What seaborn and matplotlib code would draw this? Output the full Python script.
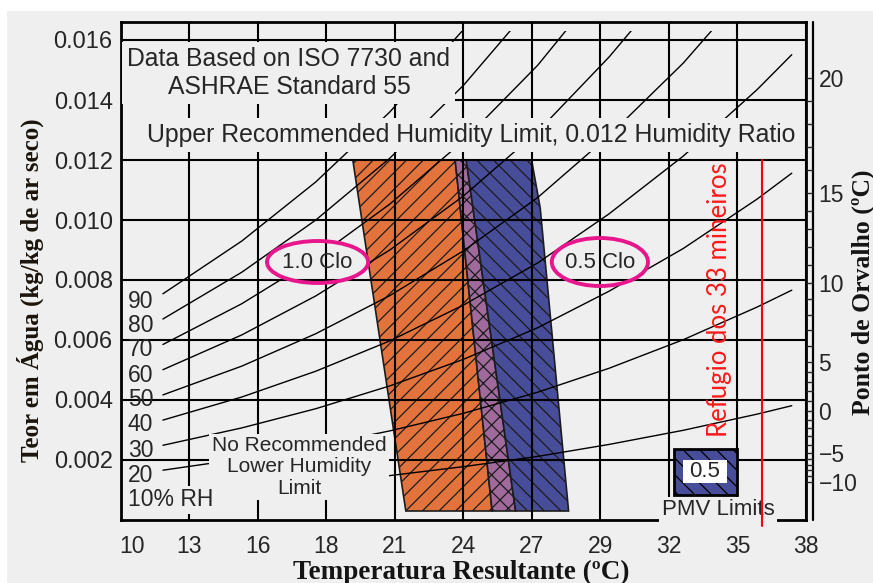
import numpy as np
import pandas as pd
import matplotlib
matplotlib.use("Agg")
import matplotlib.pyplot as plt
import matplotlib.transforms as mtransforms
import seaborn as sns
from matplotlib.patches import Ellipse, Rectangle, Polygon
from matplotlib.lines import Line2D

# ---------------- data ----------------
# relative-humidity curves: humidity ratio (kg/kg) along the operative temperature (°C)
curve_temps = [11.7, 14.9, 17.9, 20.9, 23.9, 26.9, 29.8, 32.8, 35.8, 37.2]
rh_10 = [0.00083, 0.00102, 0.00123, 0.00148, 0.00178, 0.00212, 0.00252, 0.00299, 0.00353, 0.00381]
rh_20 = [0.00166, 0.00204, 0.00247, 0.00297, 0.00356, 0.00426, 0.00506, 0.00601, 0.00710, 0.00766]
rh_30 = [0.00249, 0.00307, 0.00371, 0.00447, 0.00536, 0.00641, 0.00763, 0.00905, 0.01070, 0.01156]
rh_40 = [0.00333, 0.00410, 0.00496, 0.00597, 0.00717, 0.00857, 0.01021, 0.01213, 0.01435, 0.01551]
rh_50 = [0.00417, 0.00513, 0.00621, 0.00748, 0.00898, 0.01075, 0.01282, 0.01523, 0.01805]
rh_60 = [0.00501, 0.00617, 0.00747, 0.00900, 0.01081, 0.01295, 0.01544, 0.01837]
rh_70 = [0.00585, 0.00721, 0.00873, 0.01053, 0.01265, 0.01516, 0.01809]
rh_80 = [0.00670, 0.00826, 0.01000, 0.01206, 0.01450, 0.01738]
rh_90 = [0.00754, 0.00930, 0.01127, 0.01360, 0.01636, 0.01962]
rh_levels = [10, 20, 30, 40, 50, 60, 70, 80, 90]
rh_curves = [rh_10, rh_20, rh_30, rh_40, rh_50, rh_60, rh_70, rh_80, rh_90]
rh_labels = ["90", "80", "70", "60", "50", "40", "30", "20"]

# comfort zones (ASHRAE 55 / ISO 7730), temperatures at top and bottom of each edge
zone_w = [0.012, 0.0003]
clo10_left = [19.4, 21.55]
clo10_right = [24.0, 26.0]
clo05_left = [23.55, 25.05]
clo05_right_t = [26.65, 27.0, 28.15]
clo05_right_w = [0.012, 0.0104, 0.0003]

upper_limit = 0.012
refuge_temp = 36.0

# axes ticks
x_tick_f = [50, 55, 60, 65, 70, 75, 80, 85, 90, 95, 100]
x_tick_labels = ["10", "13", "16", "18", "21", "24", "27", "29", "32", "35", "38"]
y_ticks = [0.002, 0.004, 0.006, 0.008, 0.010, 0.012, 0.014, 0.016]
dew_labels = ["20", "15", "10", "5", "0", "\u22125", "\u221210"]
dew_values = [20, 15, 10, 5, 0, -5, -10]
dew_w = [0.01473, 0.0109, 0.0079, 0.00527, 0.00363, 0.00223, 0.00127]

# ---------------- style ----------------
sns.set_style("white")
plt.rcParams["font.family"] = ["Liberation Sans", "DejaVu Sans"]
plt.rcParams["hatch.linewidth"] = 0.9

BG = "#efefef"
ORANGE = "#e2733c"
BLUE = "#474d98"
PURPLE = "#a06a9c"
MAGENTA = "#e8168c"

fig = plt.figure(figsize=(8.73, 5.83), dpi=100)
fig.patch.set_facecolor(BG)
fig.add_artist(Rectangle((0, 1 - 11 / 583), 1, 11 / 583, transform=fig.transFigure,
                         fc="white", ec="none", zorder=-5))
fig.add_artist(Rectangle((0, 0), 7 / 873, 1, transform=fig.transFigure,
                         fc="white", ec="none", zorder=-5))

ax = fig.add_axes([121 / 873, 63 / 583, 685 / 873, 498 / 583])
ax.set_facecolor(BG)
xmin = (50 - 32) * 5 / 9
xmax = (100 - 32) * 5 / 9
ax.set_xlim(xmin, xmax)
ax.set_ylim(0, 0.0166)

# RH curves
rows = []
for rh, vals in zip(rh_levels, rh_curves):
    for t, w in zip(curve_temps, vals):
        rows.append({"temp": t, "w": w, "rh": rh})
df = pd.DataFrame(rows)
sns.lineplot(data=df, x="temp", y="w", hue="rh", units="rh", estimator=None, sort=False,
             palette={r: "black" for r in rh_levels}, legend=False, linewidth=1.0, ax=ax)
clip_rect = Rectangle((xmin, 0), xmax - xmin, 0.0163, transform=ax.transData)
for ln in ax.lines:
    ln.set_clip_path(clip_rect)
    ln.set_zorder(2)

# comfort zones
orange_poly = [(clo10_left[0], zone_w[0]), (clo05_left[0], zone_w[0]),
               (clo05_left[1], zone_w[1]), (clo10_left[1], zone_w[1])]
purple_poly = [(clo05_left[0], zone_w[0]), (clo10_right[0], zone_w[0]),
               (clo10_right[1], zone_w[1]), (clo05_left[1], zone_w[1])]
blue_poly = [(clo10_right[0], zone_w[0])] + list(zip(clo05_right_t, clo05_right_w)) + \
            [(clo10_right[1], zone_w[1])]
for poly, fc, hatch in [(orange_poly, ORANGE, "//"), (purple_poly, PURPLE, "xx"),
                        (blue_poly, BLUE, "\\\\")]:
    ax.add_patch(Polygon(poly, closed=True, fc=fc, ec="#1c1c1c", hatch=hatch,
                         lw=1.2, zorder=1))

# grid
ax.set_xticks([(f - 32) * 5 / 9 for f in x_tick_f])
ax.set_xticklabels(x_tick_labels)
ax.set_yticks(y_ticks)
ax.set_yticklabels([f"{v:.3f}" for v in y_ticks])
ax.set_axisbelow(False)
ax.grid(True, color="black", linewidth=1.5)
ax.set_xlabel("")
ax.set_ylabel("")
ax.tick_params(axis="x", length=0, pad=11, labelsize=16.5)
ax.tick_params(axis="y", length=0, pad=6, labelsize=17)
for s in ax.spines.values():
    s.set_linewidth(2)
    s.set_color("black")
# first temperature label sits a little right of the corner
first = ax.get_xticklabels()[0]
first.set_transform(first.get_transform() +
                    mtransforms.ScaledTranslation(8 / 72, 0, fig.dpi_scale_trans))

# dew-point scale on the right
ax2 = ax.twinx()
ax2.set_ylim(ax.get_ylim())
ax2.set_yticks(dew_w)
ax2.set_yticklabels(dew_labels)
minor_dp = np.arange(-12, 23)
minor_w = np.interp(minor_dp, dew_values[::-1], dew_w[::-1])
ax2.set_yticks(minor_w, minor=True)
ax2.tick_params(axis="y", which="both", direction="out", length=5, width=1.0, pad=4,
                labelsize=16.5, right=True)
ax2.grid(False)
for s in ax2.spines.values():
    s.set_visible(False)
ax.add_line(Line2D([1.0102, 1.0102], [0, 1.0], transform=ax.transAxes, color="black",
                   lw=1.6, clip_on=False))

# annotation boxes
box = dict(boxstyle="square,pad=0.2", fc=BG, ec="none")
ax.text(16.81, 0.0149, "Data Based on ISO 7730 and\nASHRAE Standard 55", ha="center",
        va="center", fontsize=17.8, linespacing=1.2, bbox=box, zorder=4)
ax.text(24.21, 0.01283, "Upper Recommended Humidity Limit, 0.012 Humidity Ratio",
        ha="center", va="center", fontsize=17.9, bbox=box, zorder=4)
ax.text(17.22, 0.00177, "No Recommended\nLower Humidity\nLimit", ha="center", va="center",
        fontsize=15, linespacing=1.15, bbox=dict(boxstyle="square,pad=0.12", fc=BG, ec="none"),
        zorder=4)

label_w = [0.00727, 0.0065, 0.00567, 0.0048, 0.0040, 0.00317, 0.00233, 0.0015]
for lab, w in zip(rh_labels, label_w):
    ax.text(10.28, w, lab, ha="left", va="center", fontsize=16.5, zorder=4)
ax.text(10.28, 0.00067, "10% RH", ha="left", va="center", fontsize=16.5,
        bbox=dict(boxstyle="square,pad=0.1", fc=BG, ec="none"), zorder=4)

# clothing labels
for (cx, cw, ch, txt) in [(17.97, 4.1, 0.0014, "1.0 Clo"), (29.42, 3.9, 0.0016, "0.5 Clo")]:
    ax.add_patch(Ellipse((cx, 0.0086), cw, ch, fc=BG, ec="none", zorder=2.2))
    ax.add_patch(Ellipse((cx, 0.0086), cw, ch, fc="none", ec=MAGENTA, lw=2.8, zorder=5))
    ax.text(cx, 0.0086, txt, ha="center", va="center", fontsize=16, zorder=5)

# refuge temperature
ax.plot([refuge_temp, refuge_temp], [upper_limit, -0.0002], color="#ff0000", lw=1.5,
        clip_on=False, zorder=6)
ax.text(34.25, 0.00733, "Refugio dos 33 mineiros", rotation=90, color="#ff1a1a",
        ha="center", va="center", fontsize=18.5, family=["Lato", "DejaVu Sans"], zorder=5)

# PMV legend
ax.add_patch(Rectangle((32.43, 0.00083), 2.55, 0.00154, fc=BLUE, ec="black", hatch="\\\\",
                       lw=2, zorder=4.5))
ax.add_patch(Rectangle((32.79, 0.00123), 1.78, 0.00077, fc="white", ec="none", zorder=4.6))
ax.text(33.68, 0.00162, "0.5", ha="center", va="center", fontsize=16, zorder=5)
ax.text(34.21, 0.00035, "PMV Limits", ha="center", va="center", fontsize=16,
        bbox=dict(boxstyle="square,pad=0.1", fc=BG, ec="none"), zorder=4.4)

# axis titles
serif = ["Liberation Serif", "DejaVu Serif"]
fig.text(461 / 873, 1 - 572 / 583, "Temperatura Resultante (ºC)", ha="center", va="center",
         fontsize=19.5, fontweight="bold", family=serif, color="#141414")
fig.text(30 / 873, 1 - 290 / 583, "Teor em Água (kg/kg de ar seco)", ha="center",
         va="center", rotation=90, fontsize=18, fontweight="bold", family=serif,
         color="#1a140c")
fig.text(863 / 873, 1 - 292 / 583, "Ponto de Orvalho (ºC)", ha="center", va="center",
         rotation=90, fontsize=18.5, fontweight="bold", family=serif, color="#141414")

fig.savefig("out.png", dpi=100, facecolor=fig.get_facecolor())
